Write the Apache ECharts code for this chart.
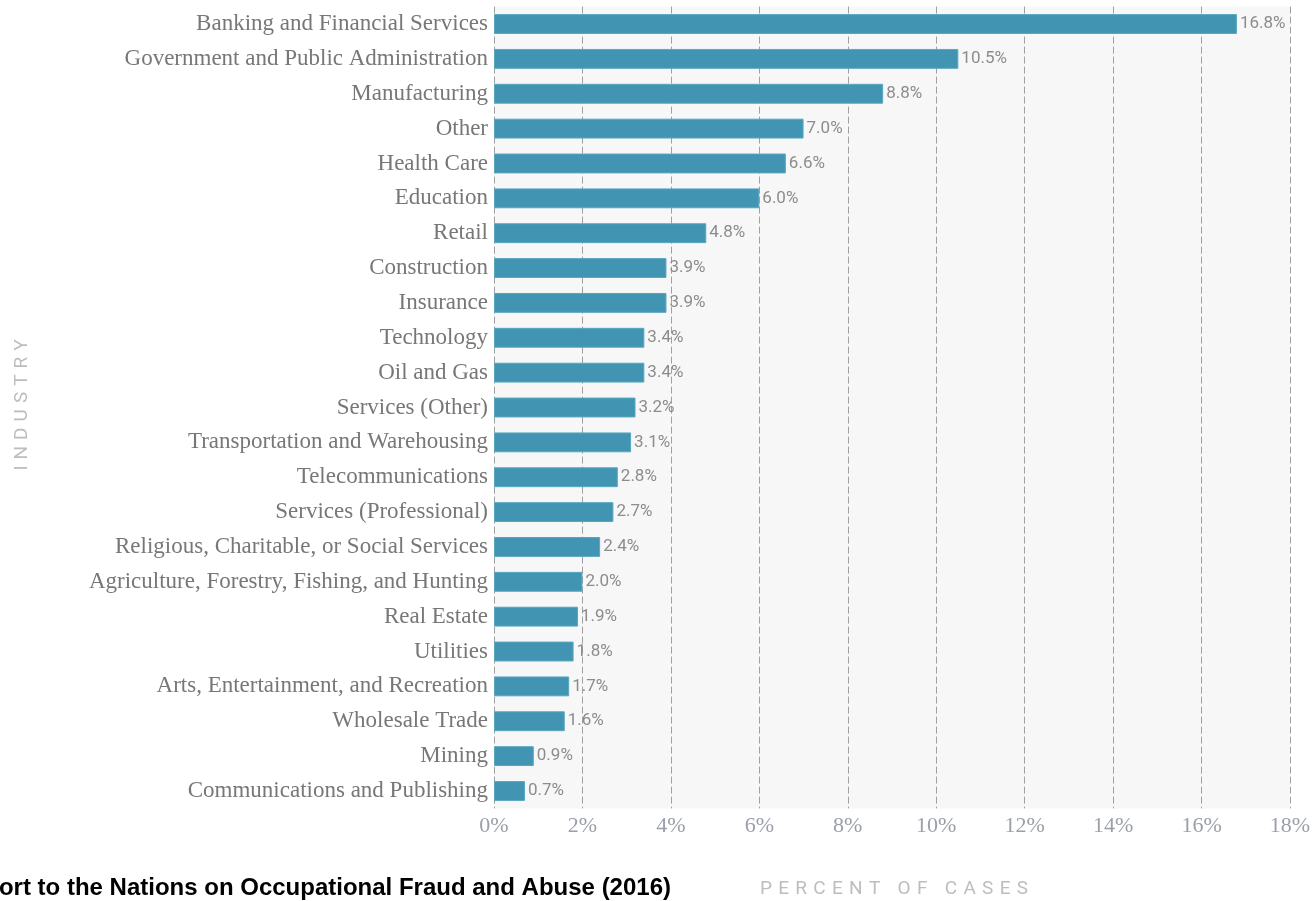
<!DOCTYPE html>
<html>
<head>
<meta charset="utf-8">
<style>html,body{margin:0;padding:0;background:#fff;}#chart{width:1316px;height:901px;}</style>
<script src="https://cdn.jsdelivr.net/npm/echarts@6/dist/echarts.min.js"></script>
</head>
<body>
<div id="chart"></div>
<script>
const categories = ["Banking and Financial Services","Government and Public Administration","Manufacturing","Other","Health Care","Education","Retail","Construction","Insurance","Technology","Oil and Gas","Services (Other)","Transportation and Warehousing","Telecommunications","Services (Professional)","Religious, Charitable, or Social Services","Agriculture, Forestry, Fishing, and Hunting","Real Estate","Utilities","Arts, Entertainment, and Recreation","Wholesale Trade","Mining","Communications and Publishing"];
const values = [16.8,10.5,8.8,7.0,6.6,6.0,4.8,3.9,3.9,3.4,3.4,3.2,3.1,2.8,2.7,2.4,2.0,1.9,1.8,1.7,1.6,0.9,0.7];
const xTicks = [0,2,4,6,8,10,12,14,16,18];
const xTitle = "PERCENT OF CASES";
const yTitle = "INDUSTRY";
const sourceText = "Report to the Nations on Occupational Fraud and Abuse (2016)";

const chart = echarts.init(document.getElementById('chart'));
const mctx = document.createElement('canvas').getContext('2d');
function spaced(text, font, size, spacing, color) {
  mctx.font = size + 'px ' + font;
  const kids = [];
  let x = 0;
  for (const ch of text) {
    kids.push({type:'text', x:x, y:0, style:{text:ch, font: size + 'px ' + font, fill:color, textVerticalAlign:'middle'}});
    x += mctx.measureText(ch).width + spacing;
  }
  return {kids, width: x - spacing};
}
const xt = spaced(xTitle, 'Roboto, sans-serif', 19, 6.3, '#bdbdbd');
const yt = spaced(yTitle, 'Roboto, sans-serif', 19, 6.0, '#bdbdbd');

chart.setOption({
  animation:false,
  grid:{left:494, right:26, top:6.6, bottom:92.6, show:true, backgroundColor:'#f7f7f7', borderWidth:0, containLabel:false},
  xAxis:{type:'value', min:xTicks[0], max:xTicks[xTicks.length-1], interval:xTicks[1]-xTicks[0],
    axisLine:{show:false}, axisTick:{show:false},
    axisLabel:{formatter:v=>v+'%', color:'#9aa0aa', fontFamily:'Liberation Serif, serif', fontSize:22, margin:7},
    splitLine:{show:true, lineStyle:{color:'#a0a0a0', type:[7,3], width:1}}},
  yAxis:{type:'category', data:categories, inverse:true,
    axisLine:{show:false}, axisTick:{show:false},
    axisLabel:{color:'#777', fontFamily:'Liberation Serif, serif', fontSize:23, margin:6}},
  series:[{type:'bar', data:values, barCategoryGap:'43%',
    itemStyle:{color:'#4195b3', borderColor:'#5aa6c0', borderWidth:1},
    label:{show:true, position:'right', distance:3, formatter:p=>p.value.toFixed(1)+'%',
      color:'#8c8c8c', fontFamily:'Liberation Sans Narrow, Roboto, sans-serif', fontSize:17}}],
  graphic:[
    {type:'group', x:894 - xt.width/2, y:889, children:xt.kids},
    {type:'group', x:22, y:405 + yt.width/2, rotation:Math.PI/2, children:yt.kids},
    {type:'text', x:671, y:888, style:{text:sourceText, font:'bold 24px "Liberation Sans", sans-serif', fill:'#000', textAlign:'right', textVerticalAlign:'middle'}}
  ]
});
</script>
</body>
</html>
